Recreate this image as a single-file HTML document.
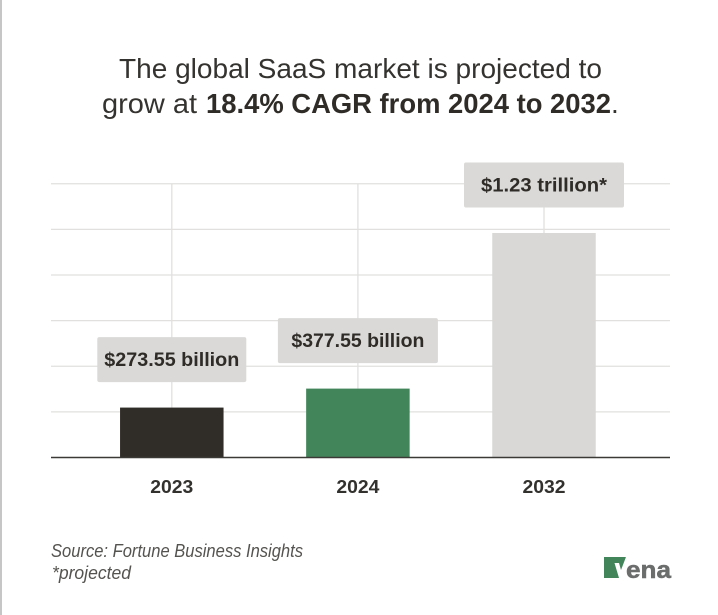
<!DOCTYPE html>
<html lang="en">
<head>
<meta charset="utf-8">
<title>Global SaaS market projection</title>
<style>
  html, body { margin: 0; padding: 0; background: #fff; }
  body { width: 718px; height: 615px; overflow: hidden; }
  svg { display: block; font-family: "Liberation Sans", sans-serif; }
</style>
</head>
<body>
<svg id="chart" width="718" height="615" viewBox="0 0 718 615" xmlns="http://www.w3.org/2000/svg">
  <rect x="0" y="0" width="718" height="615" fill="#ffffff"/>
  <rect x="0" y="0" width="2" height="615" fill="#c6c6c6"/>

  <text x="119" y="78" font-size="28" fill="#353330" textLength="483" lengthAdjust="spacingAndGlyphs">The global SaaS market is projected to</text>
  <text y="113" font-size="28" fill="#353330"><tspan x="102" textLength="95" lengthAdjust="spacingAndGlyphs">grow at</tspan><tspan x="206" font-weight="bold" fill="#2f2c28" textLength="405" lengthAdjust="spacingAndGlyphs">18.4% CAGR from 2024 to 2032</tspan><tspan x="611">.</tspan></text>

  <g id="grid"></g>
  <g id="stems"></g>
  <g id="bars"></g>
  <line x1="51" x2="670" y1="457.5" y2="457.5" stroke="#3c3a37" stroke-width="1.4"/>
  <g id="labels"></g>
  <g id="ticks"></g>

  <text x="51" y="557" font-size="18" font-style="italic" fill="#55534f" textLength="252" lengthAdjust="spacingAndGlyphs">Source: Fortune Business Insights</text>
  <text x="52" y="579" font-size="18" font-style="italic" fill="#55534f" textLength="79" lengthAdjust="spacingAndGlyphs">*projected</text>

  <g>
    <polygon points="604,557 626,557 620,578 604,578" fill="#43855a"/>
    <polygon points="614.5,563 619,563 621,570 626,557 627,557 620.5,578 619,578" fill="#ffffff"/>
    <text x="626" y="578" font-size="24" font-weight="bold" fill="#6b6c6c" stroke="#6b6c6c" stroke-width="0.5" textLength="45" lengthAdjust="spacingAndGlyphs">ena</text>
  </g>
</svg>
<script>
const categories = ["2023", "2024", "2032"];
const marketValues = [273.55, 377.55, 1230];
const valueLabels = ["$273.55 billion", "$377.55 billion", "$1.23 trillion*"];
const gridTicks = [0, 250, 500, 750, 1000, 1250, 1500];
const barColors = ["#302d29", "#43855a", "#d9d8d6"];

const SVG_NS = "http://www.w3.org/2000/svg";
const AXIS_Y = 457.5;
const PX_PER_UNIT = 273.75 / 1500;
const FIRST_CENTER = 171.8;
const BAND_STEP = 186.1;
const BAR_WIDTH = 103.5;
const TOP_Y = AXIS_Y - 1500 * PX_PER_UNIT;
const LABEL_HEIGHT = 45;
const LABEL_CENTER_OFFSET = 48;

function yScale(v) { return AXIS_Y - v * PX_PER_UNIT; }
function xScale(i) { return FIRST_CENTER + i * BAND_STEP; }
function labelBoxWidth(text) { return text.indexOf("273") >= 0 ? 149 : 160; }
function labelTextWidth(text) { return text.indexOf("273") >= 0 ? 135 : (text.indexOf("377") >= 0 ? 133 : 126); }

function make(tag, attrs) {
  const el = document.createElementNS(SVG_NS, tag);
  for (const k in attrs) el.setAttribute(k, attrs[k]);
  return el;
}

const gridGroup = document.getElementById("grid");
gridTicks.forEach(function (t) {
  if (t === 0) return;
  const line = make("line", { x1: 51, x2: 670, y1: yScale(t), y2: yScale(t), stroke: "#e1e0df", "stroke-width": 1.3 });
  
  
  gridGroup.appendChild(line);
});

const stemGroup = document.getElementById("stems");
const barGroup = document.getElementById("bars");
const labelGroup = document.getElementById("labels");
const tickGroup = document.getElementById("ticks");

categories.forEach(function (cat, i) {
  const cx = xScale(i);
  const top = yScale(marketValues[i]);

  const stem = make("line", { x1: cx, x2: cx, y1: TOP_Y, y2: top, stroke: "#e1e0df", "stroke-width": 1.3 });
  
  
  stemGroup.appendChild(stem);

  const bar = make("rect", { x: cx - BAR_WIDTH / 2, y: top, width: BAR_WIDTH, height: AXIS_Y - top, fill: barColors[i] });
  
  
  barGroup.appendChild(bar);

  const labelCy = top - LABEL_CENTER_OFFSET;
  const boxW = labelBoxWidth(valueLabels[i]);
  const box = make("rect", { x: cx - boxW / 2, y: labelCy - LABEL_HEIGHT / 2, width: boxW, height: LABEL_HEIGHT, rx: 2, fill: "#dad9d7" });
  
  
  labelGroup.appendChild(box);

  const txtW = labelTextWidth(valueLabels[i]);
  const label = make("text", { x: cx - txtW / 2, y: labelCy + 6.5, "font-size": 19, "font-weight": "bold", fill: "#2f2c28", textLength: txtW, lengthAdjust: "spacingAndGlyphs" });
  
  
  label.textContent = valueLabels[i];
  labelGroup.appendChild(label);

  const tick = make("text", { x: cx - 21.5, y: 493, "font-size": 18.5, "font-weight": "bold", fill: "#33312e", textLength: 43, lengthAdjust: "spacingAndGlyphs" });
  
  
  tick.textContent = cat;
  tickGroup.appendChild(tick);
});
</script>
</body>
</html>
